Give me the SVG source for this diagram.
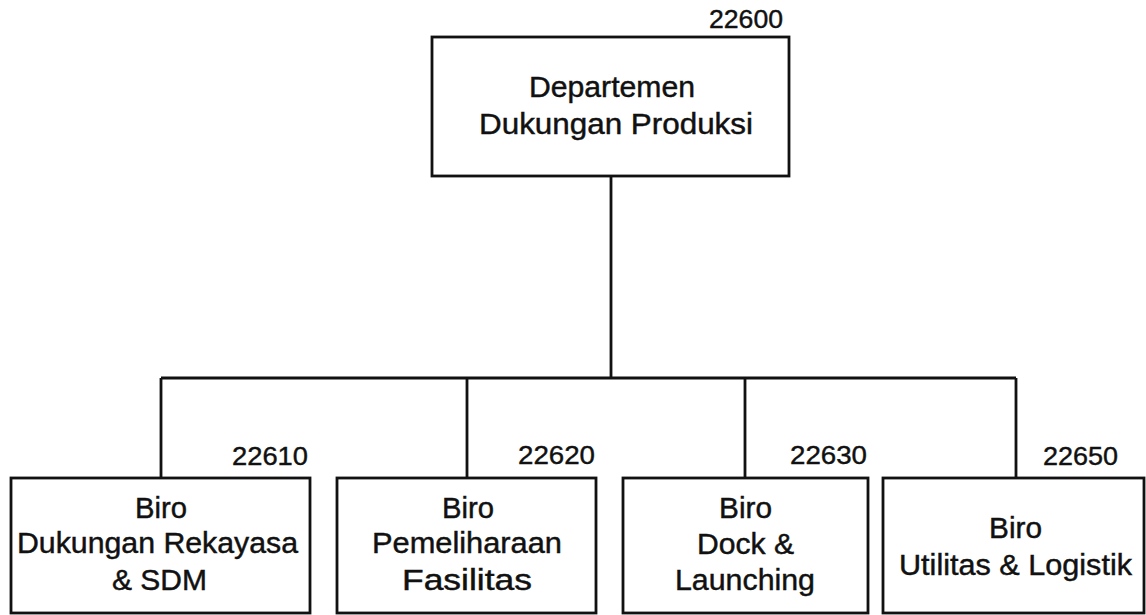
<svg xmlns="http://www.w3.org/2000/svg" width="1146" height="615" viewBox="0 0 1146 615">
<style>
.box{fill:#fff;stroke:#111;stroke-width:2.8}
.conn{fill:none;stroke:#111;stroke-width:2.8}
.t{font-family:"Liberation Sans",Arial,sans-serif;font-size:29.5px;fill:#111;stroke:#111;stroke-width:0.45}
.n{font-family:"Liberation Sans",Arial,sans-serif;font-size:25px;fill:#111;stroke:#111;stroke-width:0.4}
</style>
<rect width="1146" height="615" fill="#fff"/>
<g id="connectors">
<path class="conn" d="M611 176V378M161 378H1016M161 378V478M467 378V478M745 378V478M1016 378V478"/>
</g>
<g id="n22600">
<rect class="box" x="432" y="37" width="357" height="139"/>
<text class="n" x="709" y="28" textLength="74" lengthAdjust="spacingAndGlyphs">22600</text>
<text class="t" x="529" y="97" textLength="166" lengthAdjust="spacingAndGlyphs">Departemen</text>
<text class="t" x="479" y="134" textLength="274" lengthAdjust="spacingAndGlyphs">Dukungan Produksi</text>
</g>
<g id="n22610">
<rect class="box" x="11" y="478" width="299" height="135"/>
<text class="n" x="232" y="465" textLength="76" lengthAdjust="spacingAndGlyphs">22610</text>
<text class="t" x="135" y="518" textLength="52" lengthAdjust="spacingAndGlyphs">Biro</text>
<text class="t" x="17" y="553" textLength="281" lengthAdjust="spacingAndGlyphs">Dukungan Rekayasa</text>
<text class="t" x="112" y="590" textLength="95" lengthAdjust="spacingAndGlyphs">&amp; SDM</text>
</g>
<g id="n22620">
<rect class="box" x="337" y="478" width="259" height="135"/>
<text class="n" x="518" y="464" textLength="77" lengthAdjust="spacingAndGlyphs">22620</text>
<text class="t" x="442" y="518" textLength="52" lengthAdjust="spacingAndGlyphs">Biro</text>
<text class="t" x="372" y="553" textLength="190" lengthAdjust="spacingAndGlyphs">Pemeliharaan</text>
<text class="t" x="402" y="590" textLength="130" lengthAdjust="spacingAndGlyphs">Fasilitas</text>
</g>
<g id="n22630">
<rect class="box" x="623" y="478" width="245" height="135"/>
<text class="n" x="790" y="464" textLength="77" lengthAdjust="spacingAndGlyphs">22630</text>
<text class="t" x="719" y="518" textLength="53" lengthAdjust="spacingAndGlyphs">Biro</text>
<text class="t" x="697" y="554" textLength="97" lengthAdjust="spacingAndGlyphs">Dock &amp;</text>
<text class="t" x="675" y="590" textLength="140" lengthAdjust="spacingAndGlyphs">Launching</text>
</g>
<g id="n22650">
<rect class="box" x="883" y="478" width="261" height="135"/>
<text class="n" x="1043" y="465" textLength="75" lengthAdjust="spacingAndGlyphs">22650</text>
<text class="t" x="989" y="538" textLength="53" lengthAdjust="spacingAndGlyphs">Biro</text>
<text class="t" x="899" y="575" textLength="233" lengthAdjust="spacingAndGlyphs">Utilitas &amp; Logistik</text>
</g>
</svg>
